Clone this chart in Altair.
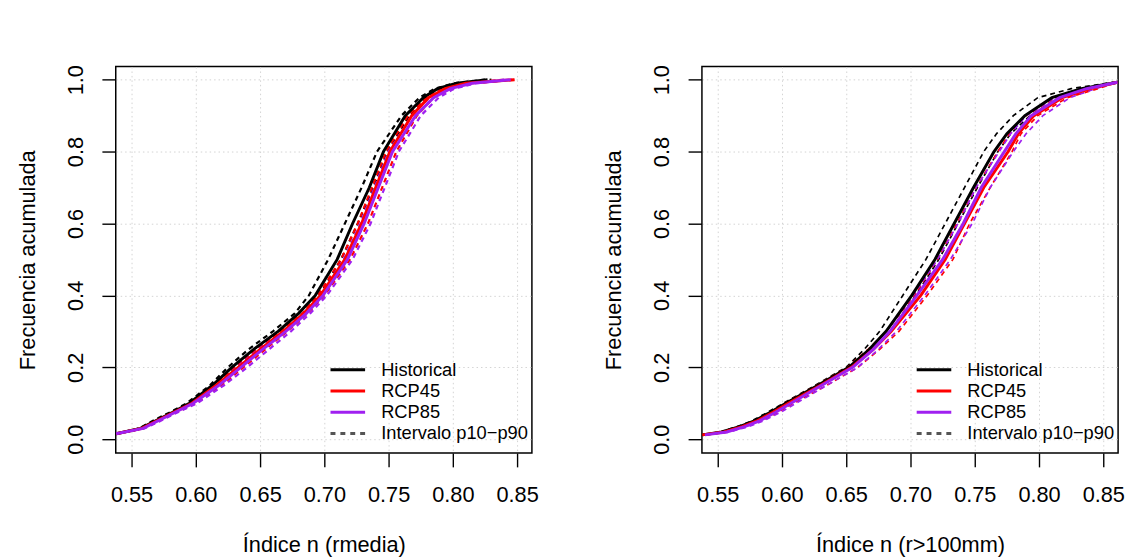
import altair as alt
import pandas as pd

# ---------------- data ----------------
XTICKS = [0.55, 0.60, 0.65, 0.70, 0.75, 0.80, 0.85]
YTICKS = [0.0, 0.2, 0.4, 0.6, 0.8, 1.0]

SERIES = ["Historical", "RCP45", "RCP85"]
COLORS = ["#000000", "#FF0000", "#A020F0"]
LEGEND_LABELS = ["Historical", "RCP45", "RCP85", "Intervalo p10\u2212p90"]
LEGEND_COLORS = ["#000000", "#FF0000", "#A020F0", "#555555"]

# Left panel: Índice n (rmedia)
FREQ_L = [0.015, 0.03, 0.05, 0.075, 0.1, 0.15, 0.2, 0.25, 0.3, 0.35, 0.4,
          0.5, 0.6, 0.7, 0.8, 0.9, 0.95, 0.975, 0.99, 1.0]
L_HIST = [0.538, 0.557, 0.568, 0.582, 0.595, 0.613, 0.628, 0.645, 0.664, 0.680, 0.693,
          0.710, 0.722, 0.735, 0.746, 0.763, 0.777, 0.788, 0.803, 0.827]
L_HIST_P10 = [0.538, 0.556, 0.566, 0.580, 0.593, 0.611, 0.625, 0.641, 0.660, 0.677, 0.688,
              0.703, 0.716, 0.729, 0.741, 0.760, 0.774, 0.786, 0.801, 0.825]
L_HIST_P90 = [0.538, 0.558, 0.569, 0.583, 0.597, 0.615, 0.631, 0.648, 0.667, 0.684, 0.696,
              0.713, 0.726, 0.738, 0.749, 0.766, 0.779, 0.791, 0.806, 0.830]
L_R45 = [0.538, 0.558, 0.569, 0.583, 0.597, 0.616, 0.633, 0.650, 0.668, 0.684, 0.697,
         0.716, 0.729, 0.740, 0.751, 0.768, 0.781, 0.794, 0.810, 0.848]
L_R45_P10 = [0.538, 0.557, 0.568, 0.582, 0.596, 0.614, 0.630, 0.647, 0.666, 0.683, 0.695,
             0.713, 0.726, 0.737, 0.748, 0.765, 0.779, 0.792, 0.807, 0.840]
L_R45_P90 = [0.538, 0.559, 0.571, 0.585, 0.600, 0.620, 0.637, 0.654, 0.671, 0.687, 0.700,
             0.720, 0.734, 0.745, 0.756, 0.772, 0.785, 0.798, 0.814, 0.848]
L_R85 = [0.538, 0.559, 0.570, 0.584, 0.598, 0.618, 0.635, 0.652, 0.670, 0.686, 0.699,
         0.718, 0.731, 0.742, 0.753, 0.771, 0.785, 0.798, 0.815, 0.845]
L_R85_P10 = [0.538, 0.558, 0.569, 0.583, 0.597, 0.616, 0.632, 0.649, 0.668, 0.685, 0.697,
             0.715, 0.728, 0.739, 0.750, 0.768, 0.782, 0.795, 0.811, 0.840]
L_R85_P90 = [0.538, 0.560, 0.572, 0.586, 0.601, 0.622, 0.640, 0.657, 0.674, 0.689, 0.702,
             0.722, 0.736, 0.747, 0.758, 0.775, 0.789, 0.801, 0.818, 0.846]

# Right panel: Índice n (r>100mm)
FREQ_R = [0.012, 0.02, 0.035, 0.05, 0.075, 0.1, 0.15, 0.2, 0.25, 0.3, 0.4,
          0.5, 0.6, 0.7, 0.8, 0.85, 0.9, 0.95, 0.975, 0.993]
R_HIST = [0.538, 0.553, 0.567, 0.578, 0.591, 0.603, 0.628, 0.652, 0.668, 0.681, 0.701,
          0.719, 0.734, 0.749, 0.765, 0.775, 0.789, 0.810, 0.833, 0.861]
R_HIST_P10 = [0.538, 0.552, 0.565, 0.576, 0.589, 0.601, 0.626, 0.650, 0.664, 0.676, 0.694,
              0.712, 0.727, 0.742, 0.757, 0.767, 0.780, 0.799, 0.825, 0.858]
R_HIST_P90 = [0.538, 0.554, 0.569, 0.580, 0.594, 0.606, 0.631, 0.655, 0.671, 0.684, 0.704,
              0.722, 0.737, 0.752, 0.768, 0.778, 0.793, 0.815, 0.836, 0.861]
R_R45 = [0.538, 0.555, 0.569, 0.580, 0.593, 0.605, 0.630, 0.654, 0.671, 0.685, 0.708,
         0.727, 0.742, 0.757, 0.776, 0.784, 0.796, 0.818, 0.840, 0.861]
R_R45_P10 = [0.538, 0.554, 0.567, 0.578, 0.591, 0.602, 0.627, 0.651, 0.667, 0.681, 0.703,
             0.721, 0.736, 0.751, 0.768, 0.777, 0.790, 0.813, 0.835, 0.861]
R_R45_P90 = [0.540, 0.557, 0.572, 0.583, 0.597, 0.609, 0.635, 0.659, 0.676, 0.691, 0.713,
             0.733, 0.746, 0.762, 0.779, 0.786, 0.799, 0.822, 0.846, 0.861]
R_R85 = [0.540, 0.557, 0.571, 0.582, 0.595, 0.607, 0.631, 0.655, 0.671, 0.684, 0.705,
         0.725, 0.741, 0.755, 0.773, 0.782, 0.794, 0.816, 0.837, 0.861]
R_R85_P10 = [0.539, 0.555, 0.569, 0.580, 0.593, 0.604, 0.628, 0.652, 0.668, 0.681, 0.702,
             0.721, 0.737, 0.751, 0.769, 0.778, 0.790, 0.812, 0.833, 0.860]
R_R85_P90 = [0.541, 0.559, 0.574, 0.585, 0.599, 0.611, 0.635, 0.659, 0.675, 0.689, 0.711,
             0.731, 0.748, 0.762, 0.780, 0.790, 0.803, 0.824, 0.844, 0.861]

FONT = "Liberation Sans"
LABEL_SIZE = 22


def build_df(freq, curves):
    rows = []
    for (serie, tipo), xs in curves.items():
        for f, x in zip(freq, xs):
            rows.append({"serie": serie, "tipo": tipo, "curva": serie + "_" + tipo,
                         "x": x, "f": f})
    return pd.DataFrame(rows)


df_left = build_df(FREQ_L, {
    ("Historical", "p10"): L_HIST_P10, ("Historical", "p90"): L_HIST_P90,
    ("Historical", "mediana"): L_HIST,
    ("RCP45", "p10"): L_R45_P10, ("RCP45", "p90"): L_R45_P90, ("RCP45", "mediana"): L_R45,
    ("RCP85", "p10"): L_R85_P10, ("RCP85", "p90"): L_R85_P90, ("RCP85", "mediana"): L_R85,
})
df_right = build_df(FREQ_R, {
    ("Historical", "p10"): R_HIST_P10, ("Historical", "p90"): R_HIST_P90,
    ("Historical", "mediana"): R_HIST,
    ("RCP45", "p10"): R_R45_P10, ("RCP45", "p90"): R_R45_P90, ("RCP45", "mediana"): R_R45,
    ("RCP85", "p10"): R_R85_P10, ("RCP85", "p90"): R_R85_P90, ("RCP85", "mediana"): R_R85,
})

legend_df = pd.DataFrame({"leyenda": LEGEND_LABELS, "x": [None] * 4, "f": [None] * 4})


def panel(df, xtitle, dash_width):
    x = alt.X("x:Q",
              scale=alt.Scale(domain=[0.5377, 0.8615], nice=False, zero=False),
              axis=alt.Axis(values=XTICKS, format=".2f", title=xtitle,
                            labelFontSize=LABEL_SIZE, labelFont=FONT, labelColor="black",
                            titleFontSize=22, titleFont=FONT,
                            labelPadding=18, titlePadding=30))
    y = alt.Y("f:Q",
              scale=alt.Scale(domain=[-0.0385, 1.0366], nice=False, zero=False),
              axis=alt.Axis(values=YTICKS, format=".1f", title="Frecuencia acumulada",
                            labelFontSize=LABEL_SIZE, labelFont=FONT, labelColor="black",
                            titleFontSize=22, titleFont=FONT,
                            labelAngle=270, labelAlign="center", labelBaseline="bottom",
                            labelPadding=15, titlePadding=25))
    color = alt.Color("serie:N", scale=alt.Scale(domain=SERIES, range=COLORS), legend=None)

    leg = alt.Chart(legend_df).mark_line().encode(
        x=x, y=y,
        color=alt.Color("leyenda:N",
                        scale=alt.Scale(domain=LEGEND_LABELS, range=LEGEND_COLORS),
                        legend=alt.Legend(orient="none", legendX=208, legendY=297.5,
                                          title=None, symbolType="M0,0H14", symbolSize=25,
                                          labelFontSize=18.5, labelFont=FONT,
                                          labelColor="black", labelOffset=42,
                                          rowPadding=2.5, labelLimit=400)),
        strokeDash=alt.StrokeDash("leyenda:N",
                                  scale=alt.Scale(domain=LEGEND_LABELS,
                                                  range=[[1, 0], [1, 0], [1, 0], [5, 5]])),
        strokeWidth=alt.StrokeWidth("leyenda:N",
                                    scale=alt.Scale(domain=LEGEND_LABELS,
                                                    range=[3, 3, 3, 1.3])),
    )

    base = alt.Chart(df)
    dashed = base.transform_filter("datum.tipo != 'mediana'").mark_line(
        strokeDash=[5, 4], strokeWidth=dash_width, clip=True
    ).encode(x=x, y=y, color=color, detail="curva:N", order="f:Q")
    solid = base.transform_filter("datum.tipo == 'mediana'").mark_line(
        strokeWidth=3, clip=True
    ).encode(x=x, y=y, color=color, detail="curva:N", order="f:Q")

    return alt.layer(leg, dashed, solid).resolve_scale(
        color="independent", strokeDash="independent", strokeWidth="independent"
    ).properties(width=421, height=391)


left = panel(df_left, "\u00cdndice n (rmedia)", 2.2)
right = panel(df_right, "\u00cdndice n (r>100mm)", 1.7)

chart = alt.hconcat(left, right, spacing=63).properties(
    padding={"left": 8, "top": 53, "right": 0, "bottom": 0},
    background="white",
).configure_view(
    stroke="black", strokeWidth=1.5
).configure_axis(
    domain=False,
    grid=True, gridColor="#D3D3D3", gridDash=[1.5, 3], gridWidth=1,
    ticks=True, tickSize=14, tickColor="black", tickWidth=1.4,
    labelFont=FONT, labelFontSize=LABEL_SIZE, labelColor="black",
    titleFont=FONT, titleFontSize=22, titleFontWeight="normal", titleColor="black",
)

chart.save("out.html", embed_options={"renderer": "svg", "actions": False})
